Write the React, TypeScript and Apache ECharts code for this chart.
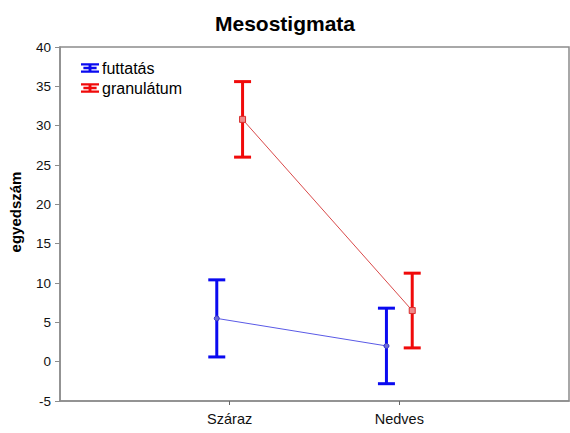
import React, { useEffect, useRef } from "react";
import * as echarts from "echarts";

const categories = ["Száraz", "Nedves"];
const futtatasMean = [5.5, 2.0];
const futtatasErr = [4.9, 4.8];
const granulatumMean = [30.8, 6.5];
const granulatumErr = [4.8, 4.75];
const yTicks = { min: -5, max: 40, interval: 5 };

const FONT = "Liberation Sans, Arial, sans-serif";
const DODGE = 0.076;
const BLUE = "#0a0af0";
const RED = "#f00a0a";

const legendIcon =
  "path://M0,0H15V2H0Z M0,6H15V8H0Z M6.3,0H8.7V8H6.3Z M2,3H13V5H2Z";

function errData(mean: number[], err: number[], off: number) {
  return mean.map((m, i) => [i + 1 + off, m - err[i], m + err[i]]);
}

function errSeries(name: string, data: number[][], color: string) {
  return {
    type: "custom",
    name,
    data,
    z: 3,
    encode: { x: 0, y: [1, 2] },
    renderItem: (params: any, api: any) => {
      const x = api.value(0);
      const lo = api.coord([x, api.value(1)]);
      const hi = api.coord([x, api.value(2)]);
      const hw = 8.5;
      const style = { stroke: color, lineWidth: 3 };
      return {
        type: "group",
        children: [
          { type: "line", shape: { x1: lo[0], y1: lo[1], x2: hi[0], y2: hi[1] }, style },
          { type: "line", shape: { x1: hi[0] - hw, y1: hi[1], x2: hi[0] + hw, y2: hi[1] }, style },
          { type: "line", shape: { x1: lo[0] - hw, y1: lo[1], x2: lo[0] + hw, y2: lo[1] }, style },
        ],
      };
    },
  };
}

export default function App() {
  const ref = useRef<HTMLDivElement>(null);
  useEffect(() => {
    const chart = echarts.init(ref.current!, null, { renderer: "svg" });
    chart.setOption({
      animation: false,
      title: {
        text: "Mesostigmata",
        left: "center",
        top: 8,
        textStyle: { fontFamily: FONT, fontSize: 21, fontWeight: "bold", color: "#000" },
      },
      legend: {
        orient: "vertical",
        left: 76,
        top: 55,
        itemWidth: 18,
        itemHeight: 10,
        itemGap: 4,
        textStyle: { fontFamily: FONT, fontSize: 16, color: "#000", padding: [0, 0, 0, -2] },
        data: [
          {
            name: "futtatás",
            icon: legendIcon,
            itemStyle: { color: BLUE, borderWidth: 0 },
            lineStyle: { width: 0, opacity: 0 },
          },
          {
            name: "granulátum",
            icon: legendIcon,
            itemStyle: { color: RED, borderWidth: 0 },
            lineStyle: { width: 0, opacity: 0 },
          },
        ],
      },
      grid: {
        left: 59,
        top: 47,
        right: 1,
        bottom: 32,
        show: true,
        borderColor: "#8c8c8c",
        borderWidth: 1.5,
      },
      xAxis: {
        type: "value",
        min: 0,
        max: categories.length + 1,
        interval: 1,
        splitLine: { show: false },
        axisLine: { onZero: false, lineStyle: { color: "#8c8c8c", width: 1.5 } },
        axisTick: {
          show: true,
          length: 4,
          customValues: categories.map((_, i) => i + 1),
          lineStyle: { color: "#666" },
        },
        axisLabel: {
          customValues: categories.map((_, i) => i + 1),
          formatter: (v: number) => categories[Math.round(v) - 1] ?? "",
          fontFamily: FONT,
          fontSize: 14.5,
          color: "#111",
          margin: 10,
        },
      },
      yAxis: {
        type: "value",
        min: yTicks.min,
        max: yTicks.max,
        interval: yTicks.interval,
        name: "egyedszám",
        nameLocation: "middle",
        nameGap: 37,
        nameTextStyle: {
          fontFamily: FONT,
          fontSize: 15,
          fontWeight: "bold",
          color: "#000",
          padding: [0, 0, 0, 24],
        },
        splitLine: { show: false },
        axisLine: { show: true, onZero: false, lineStyle: { color: "#8c8c8c", width: 1.5 } },
        axisTick: { show: true, length: 5, lineStyle: { color: "#8c8c8c" } },
        axisLabel: { fontFamily: FONT, fontSize: 13.5, color: "#111", margin: 9 },
      },
      series: [
        {
          type: "line",
          name: "futtatás",
          data: futtatasMean.map((m, i) => [i + 1 - DODGE, m]),
          symbol: "circle",
          symbolSize: 5,
          lineStyle: { color: "#5a5ae6", width: 1 },
          itemStyle: { color: "#6c6cd8", borderColor: "#3030c8", borderWidth: 1 },
          z: 4,
        },
        {
          type: "line",
          name: "granulátum",
          data: granulatumMean.map((m, i) => [i + 1 + DODGE, m]),
          symbol: "rect",
          symbolSize: 6,
          lineStyle: { color: "#d94a4a", width: 1 },
          itemStyle: { color: "#f08a8a", borderColor: "#d83030", borderWidth: 1 },
          z: 4,
        },
        errSeries("futtatás", errData(futtatasMean, futtatasErr, -DODGE), BLUE),
        errSeries("granulátum", errData(granulatumMean, granulatumErr, DODGE), RED),
      ],
    });
    return () => chart.dispose();
  }, []);
  return <div ref={ref} style={{ width: 570, height: 433, position: "absolute", left: 0, top: 0 }} />;
}
